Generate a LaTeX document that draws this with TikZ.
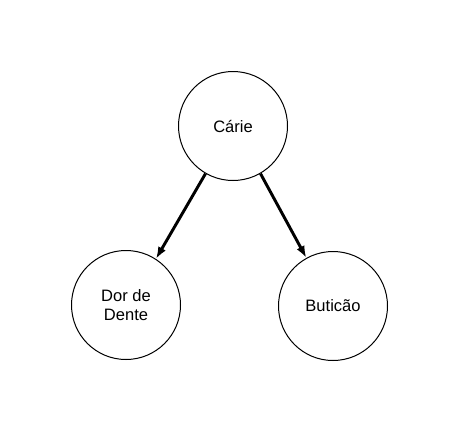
\documentclass[tikz,border=0pt]{standalone}
\usepackage{fontspec}
\setmainfont{Liberation Sans}
\usetikzlibrary{arrows.meta, positioning}

\tikzset{
	estado/.style={shape=circle, draw, line width=0.75pt, minimum size=81.75pt, inner sep=0pt, align=center, font=\fontsize{12.4}{13.7}\selectfont},
	seta/.style={line width=2.2pt, -{Latex[length=9pt, width=6.5pt]}}
}

\begin{document}
\begin{tikzpicture}[x=0.75pt, y=-0.75pt]
			% Paths, nodes and wires:
			\useasboundingbox (0, 0) rectangle (459, 432);
			\node[estado](N1) at (233, 126){Cárie};
			\node[estado](N2) at (126, 305){Dor de\\Dente};
			\node[estado](N3) at (333, 306){Buticão};
			\draw[seta] (N1.-120) -- (N2.57);
			\draw[seta] (N1.-60) -- (N3.119);
		\end{tikzpicture}
\end{document}
